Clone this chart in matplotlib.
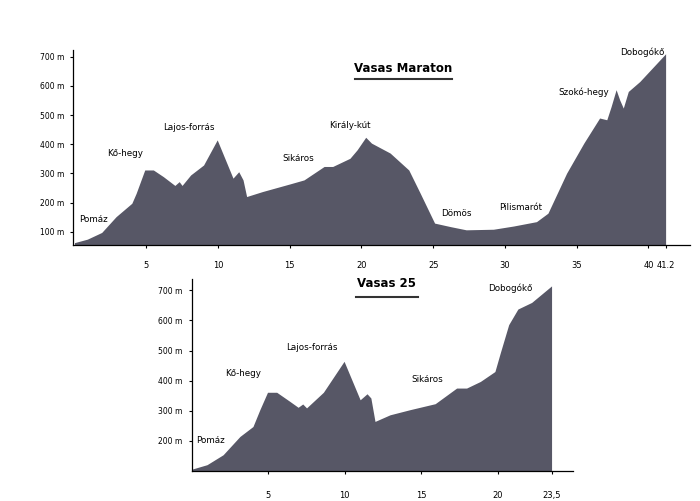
import matplotlib
matplotlib.use('Agg')
import matplotlib.pyplot as plt
from matplotlib.lines import Line2D

# Vasas Maraton - szintmetszet (km, m)
km_maraton = [0, 0.9, 1.9, 2.9, 4.0, 4.3, 4.9, 5.5, 6.2, 7.0, 7.3, 7.5, 8.1, 9.0, 9.95,
              11.05, 11.45, 11.75, 12.0, 13.1, 15.0, 16.0, 17.4, 18.0, 19.2, 19.7, 20.3,
              20.7, 22.0, 23.3, 24.1, 25.1, 26.2, 27.3, 29.2, 30.6, 32.2, 33.0, 34.3,
              35.5, 36.6, 37.1, 37.4, 37.75, 38.0, 38.25, 38.6, 39.4, 41.2]
elev_maraton = [63, 75, 98, 152, 198, 232, 312, 312, 289, 259, 272, 259, 295, 329, 415,
                284, 306, 278, 221, 238, 264, 278, 324, 324, 352, 381, 424,
                404, 370, 312, 232, 130, 118, 107, 109, 120, 135, 164, 301,
                404, 490, 484, 529, 587, 552, 524, 581, 615, 710]

# Vasas 25
km_25 = [0, 1.0, 2.05, 3.15, 4.0, 4.45, 4.95, 5.55, 6.4, 6.95, 7.25, 7.5, 8.6, 9.95,
         11.0, 11.45, 11.7, 11.97, 12.95, 14.25, 15.9, 17.3, 17.95, 18.85, 19.8,
         20.15, 20.7, 21.3, 22.2, 23.5]
elev_25 = [105, 120, 153, 214, 247, 303, 361, 361, 331, 311, 322, 309, 361, 464,
           336, 356, 342, 264, 286, 303, 323, 375, 375, 397, 430,
           492, 586, 638, 660, 715]

nevek_maraton = ['Pomáz', 'Kő-hegy', 'Lajos-forrás', 'Sikáros', 'Király-kút',
                 'Dömös', 'Pilismarót', 'Szokó-hegy', 'Dobogókő']
nev_km_maraton = [1.3, 3.5, 8.0, 15.6, 19.2, 26.6, 31.1, 35.5, 39.6]
nev_m_maraton = [144, 370, 459, 353, 466, 164, 182, 579, 716]

nevek_25 = ['Pomáz', 'Kő-hegy', 'Lajos-forrás', 'Sikáros', 'Dobogókő']
nev_km_25 = [1.25, 3.35, 7.85, 15.4, 20.8]
nev_m_25 = [200, 423, 509, 403, 706]

xt_maraton = [5, 10, 15, 20, 25, 30, 35, 40, 41.2]
xl_maraton = ['5', '10', '15', '20', '25', '30', '35', '40', '41.2']
yt_maraton = [100, 200, 300, 400, 500, 600, 700]

xt_25 = [5, 10, 15, 20, 23.5]
xl_25 = ['5', '10', '15', '20', '23,5']
yt_25 = [200, 300, 400, 500, 600, 700]

szin = '#575766'

fig = plt.figure(figsize=(7, 5.01), dpi=100)
W, H = 700, 501


def tengely(l, t, r, b):
    return fig.add_axes([l / W, 1 - b / H, (r - l) / W, (b - t) / H])


def rajzol(ax, km, elev, xt, xl, yt, nevek, nkm, nm, xlim, ylim, xpad):
    ax.fill_between(km, elev, ylim[0], color=szin, lw=0)
    ax.set_xlim(*xlim)
    ax.set_ylim(*ylim)
    for s in ['top', 'right']:
        ax.spines[s].set_visible(False)
    for s in ['left', 'bottom']:
        ax.spines[s].set_linewidth(0.9)
    ax.set_xticks(xt)
    ax.set_xticklabels(xl)
    ax.set_yticks(yt)
    ax.set_yticklabels([f'{v} m' for v in yt])
    ax.tick_params(axis='y', direction='out', length=2.5, width=0.8, labelsize=5.5, pad=4)
    ax.tick_params(axis='x', direction='out', length=2.5, width=0.8, labelsize=6, pad=xpad)
    for n, x, y in zip(nevek, nkm, nm):
        ax.text(x, y, n, ha='center', va='center', fontsize=6.3)


ax1 = tengely(73, 50, 690, 245)
rajzol(ax1, km_maraton, elev_maraton, xt_maraton, xl_maraton, yt_maraton,
       nevek_maraton, nev_km_maraton, nev_m_maraton, (-0.1, 42.9), (55, 723), 9)
ax1.text(22.9, 661, 'Vasas Maraton', ha='center', va='center',
         fontsize=8.5, fontweight='bold')
fig.add_artist(Line2D([355 / W, 452 / W], [1 - 79 / H, 1 - 79 / H],
                      color='#333333', lw=1.5))

ax2 = tengely(191.7, 279, 573, 470.7)
rajzol(ax2, km_25, elev_25, xt_25, xl_25, yt_25,
       nevek_25, nev_km_25, nev_m_25, (0, 24.9), (100, 738), 12)
ax2.text(12.7, 722, 'Vasas 25', ha='center', va='center',
         fontsize=8.5, fontweight='bold')
fig.add_artist(Line2D([356 / W, 418 / W], [1 - 297 / H, 1 - 297 / H],
                      color='#333333', lw=1.5))

fig.savefig('out.png', dpi=100)
